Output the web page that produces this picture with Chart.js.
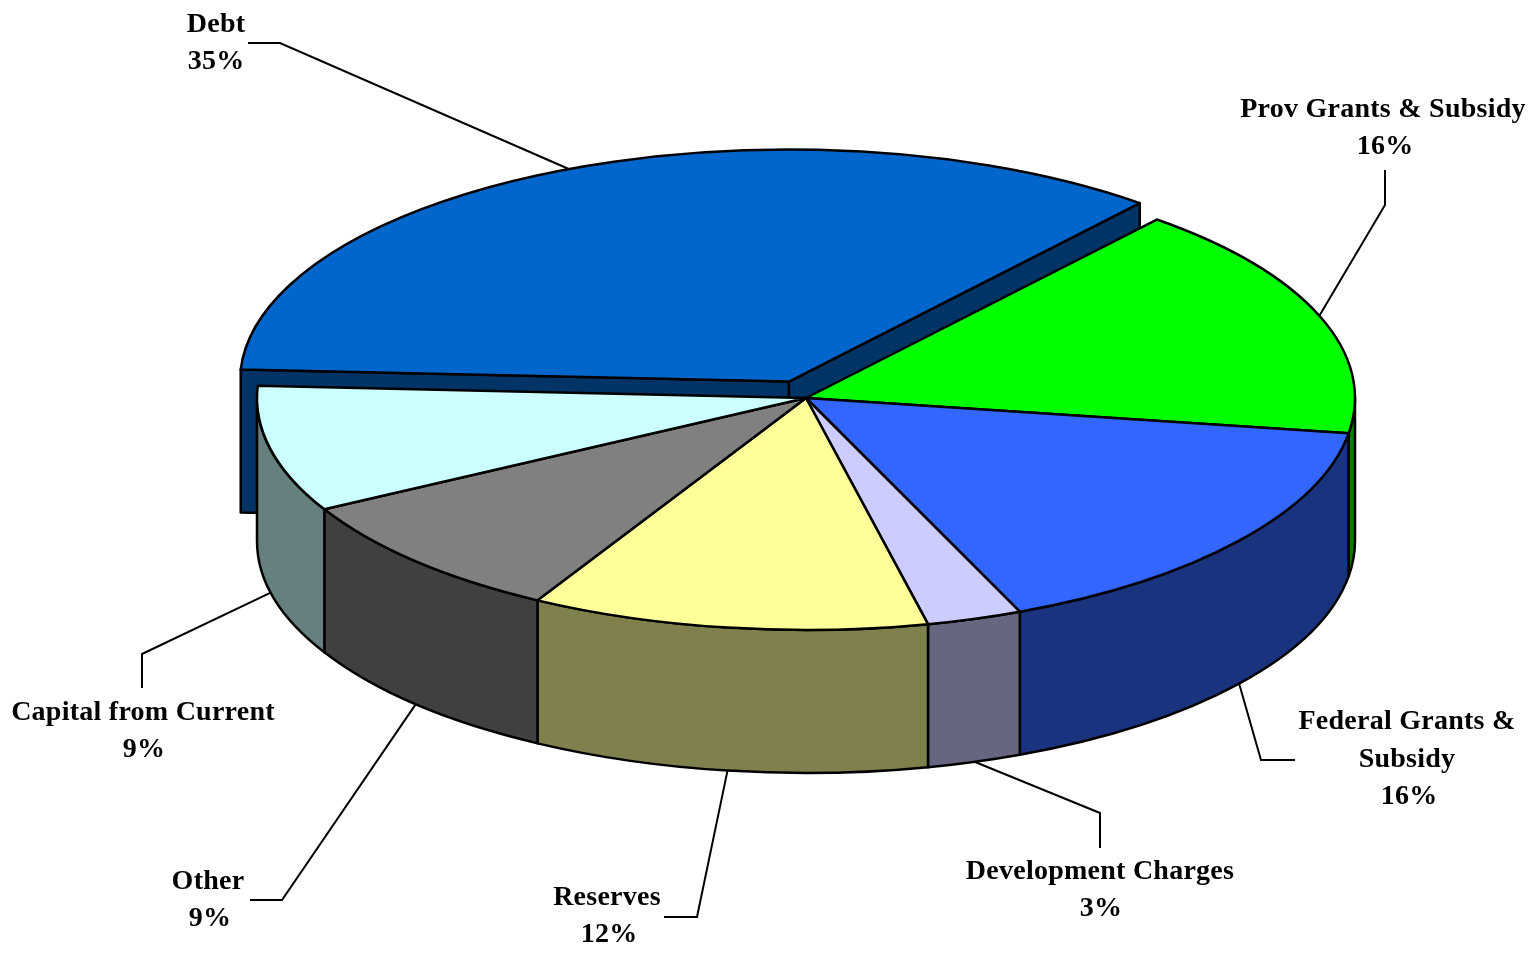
<!DOCTYPE html>
<html>
<head>
<meta charset="utf-8">
<title>Capital funding</title>
<script src="https://cdn.jsdelivr.net/npm/chart.js@4"></script>
<style>
  html, body { margin: 0; padding: 0; background: #fff; }
  #contenedor { width: 1533px; height: 955px; }
</style>
</head>
<body>
<div id="contenedor"><canvas id="grafico"></canvas></div>
<script>
// data
const categories = ['Debt', 'Prov Grants & Subsidy', 'Federal Grants & Subsidy', 'Development Charges', 'Reserves', 'Other', 'Capital from Current'];
const shares = [35.2, 16.4, 16.2, 2.8, 11.7, 8.9, 8.8];
const shareLabels = ['35%', '16%', '16%', '3%', '12%', '9%', '9%'];

const topColors = ['#0066CC', '#00FF00', '#3366FF', '#CCCCFF', '#FFFF99', '#808080', '#CCFFFF'];
const wallColors = ['#003366', '#008000', '#1A337F', '#666680', '#80804D', '#404040', '#668080'];

// only the first slice is pulled out (distance in the flat pie, before the tilt)
const pulled = [42.5, 0, 0, 0, 0, 0, 0];

// label layout: category text split in lines with centre x and middle y, share label spot, leader bends
const labelLayout = [
  { lines: [['Debt', 216, 25]], share: [216, 62], bends: [[280, 43], [248, 43]] },
  { lines: [['Prov Grants & Subsidy', 1383, 110]], share: [1385, 147], bends: [[1385, 205], [1385, 170]] },
  { lines: [['Federal Grants &', 1407, 722], ['Subsidy', 1407, 760]], share: [1409, 797], bends: [[1261, 760], [1295, 760]] },
  { lines: [['Development Charges', 1100, 872]], share: [1101, 909], bends: [[1100, 813], [1100, 848]] },
  { lines: [['Reserves', 607, 898]], share: [609, 935], bends: [[697, 917], [664, 917]] },
  { lines: [['Other', 208, 882]], share: [210, 919], bends: [[282, 900], [250, 900]] },
  { lines: [['Capital from Current', 143, 713]], share: [144, 750], bends: [[142, 654], [142, 688]] }
];

const tilt = 232 / 549;
const depth = 143;

function geo(arc, i) {
  const p = arc.getProps(['x', 'y', 'startAngle', 'endAngle', 'outerRadius']);
  const mid = (p.startAngle + p.endAngle) / 2;
  p.mid = mid;
  p.cx = p.x + Math.cos(mid) * pulled[i];
  p.cy = p.y + Math.sin(mid) * pulled[i] * tilt;
  return p;
}

function rim(p, a) {
  return [p.cx + Math.cos(a) * p.outerRadius, p.cy + Math.sin(a) * p.outerRadius * tilt];
}

function rimPath(ctx, p, from, to, dy, back) {
  ctx.ellipse(p.cx, p.cy + dy, p.outerRadius, p.outerRadius * tilt, 0, from, to, back);
}

function drawWalls(ctx, arcs) {
  ctx.lineWidth = 2.5;
  ctx.strokeStyle = '#000';
  ctx.lineJoin = 'round';
  arcs.forEach((arc, i) => {
    const p = geo(arc, i);
    ctx.fillStyle = wallColors[i];
    // cut faces of the pulled slice
    if (pulled[i] > 0) {
      [p.startAngle, p.endAngle].forEach((a) => {
        const r = rim(p, a);
        ctx.beginPath();
        ctx.moveTo(p.cx, p.cy);
        ctx.lineTo(r[0], r[1]);
        ctx.lineTo(r[0], r[1] + depth);
        ctx.lineTo(p.cx, p.cy + depth);
        ctx.closePath();
        ctx.fill();
        ctx.stroke();
      });
    }
    // outer wall, only the front half of the rim shows
    const from = Math.max(p.startAngle, 0);
    const to = Math.min(p.endAngle, Math.PI);
    if (to > from) {
      ctx.beginPath();
      rimPath(ctx, p, from, to, 0, false);
      rimPath(ctx, p, to, from, depth, true);
      ctx.closePath();
      ctx.fill();
      ctx.stroke();
    }
  });
}

function drawTops(ctx, arcs) {
  arcs.forEach((arc, i) => {
    const p = geo(arc, i);
    // the library paints the slice, squashed into the tilted plane
    ctx.save();
    ctx.translate(p.cx, p.cy);
    ctx.scale(1, tilt);
    ctx.translate(-p.x, -p.y);
    arc.draw(ctx);
    ctx.restore();
    ctx.beginPath();
    ctx.moveTo(p.cx, p.cy);
    rimPath(ctx, p, p.startAngle, p.endAngle, 0, false);
    ctx.closePath();
    ctx.lineWidth = 2.5;
    ctx.strokeStyle = '#000';
    ctx.stroke();
  });
}

function drawLabels(ctx, arcs) {
  ctx.font = 'bold 28px "Liberation Serif"';
  ctx.letterSpacing = '0.25px';
  ctx.textAlign = 'center';
  ctx.textBaseline = 'middle';
  ctx.fillStyle = '#000';
  arcs.forEach((arc, i) => {
    const p = geo(arc, i);
    const r = rim(p, p.mid);
    const front = Math.sin(p.mid) > 0;
    const spot = labelLayout[i];
    ctx.beginPath();
    ctx.moveTo(r[0], r[1] + (front ? depth : 0));
    spot.bends.forEach((b) => ctx.lineTo(b[0], b[1]));
    ctx.lineWidth = 2;
    ctx.strokeStyle = '#000';
    ctx.stroke();
    spot.lines.forEach((l) => ctx.fillText(l[0], l[1], l[2]));
    ctx.fillText(shareLabels[i], spot.share[0], spot.share[1]);
  });
}

const pie3d = {
  id: 'pie3d',
  beforeDatasetDraw(chart, args) {
    const ctx = chart.ctx;
    const arcs = args.meta.data;
    drawLabels(ctx, arcs);
    drawWalls(ctx, arcs);
    drawTops(ctx, arcs);
    return false;
  }
};

new Chart(document.getElementById('grafico'), {
  type: 'pie',
  plugins: [pie3d],
  data: {
    labels: categories,
    datasets: [{
      data: shares,
      backgroundColor: topColors,
      borderWidth: 0,
      radius: 549,
      clip: false
    }]
  },
  options: {
    responsive: true,
    maintainAspectRatio: false,
    animation: false,
    rotation: -87,
    layout: { padding: { left: 79, right: 0, top: 0, bottom: 159 } },
    plugins: {
      legend: { display: false },
      tooltip: { enabled: false },
      title: { display: false }
    }
  }
});
</script>
</body>
</html>
